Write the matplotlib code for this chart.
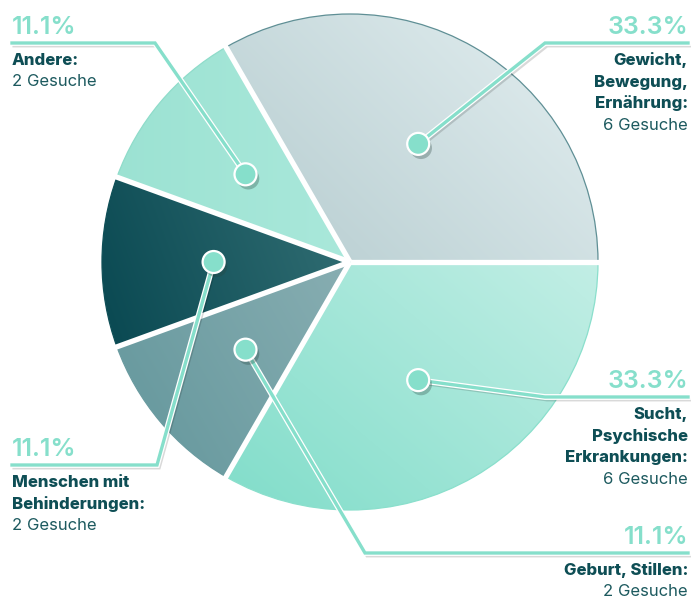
import numpy as np
import matplotlib.pyplot as plt
from matplotlib.patches import Wedge, Circle, Arc
import matplotlib.patheffects as pe

plt.rcParams['font.family'] = ['Inter', 'DejaVu Sans']

# Daten
categories = ['Gewicht,\nBewegung,\nErnährung:', 'Andere:', 'Menschen mit\nBehinderungen:',
              'Geburt, Stillen:', 'Sucht,\nPsychische\nErkrankungen:']
counts = [6, 2, 2, 2, 6]
# Farbverlauf je Segment (Start, Ende, Richtung in Grad)
grad_colors = [('#a3bec2', '#d9e7e9', 45), ('#9be2d2', '#b8eee3', 0),
               ('#0b4a53', '#538d8f', 20), ('#6a9ba0', '#a6c1c4', 30),
               ('#84decb', '#d0f2eb', 50)]
rim_colors = ['#5f8f95', '#8fdcca', '#0f4f57', '#6a9ba0', '#8adfcc']

# Beschriftung: (Knick, Ende, Ausrichtung)
leaders = [((545, 43), (688, 43), 'right'), ((155, 43), (12, 43), 'left'),
           ((157, 465), (12, 465), 'left'), ((365, 553), (688, 553), 'right'),
           ((545, 397), (688, 397), 'right')]

mint = '#86dfcb'
dark = '#0e4e55'
W, H = 691, 598
cx, cy, R = 350, 262, 248

fig = plt.figure(figsize=(W / 100, H / 100), dpi=100)
ax = fig.add_axes([0, 0, 1, 1])
ax.set_xlim(0, W)
ax.set_ylim(H, 0)
ax.axis('off')

total = sum(counts)
angles = np.cumsum([0] + [c / total * 360 for c in counts])

# Gitter für Farbverläufe
xs = np.linspace(cx - R, cx + R, 300)
ys = np.linspace(cy - R, cy + R, 300)
X, Y = np.meshgrid(xs, ys)

for i, c in enumerate(counts):
    a0, a1 = angles[i], angles[i + 1]
    w = Wedge((cx, cy), R, -a1, -a0, facecolor='none', edgecolor='none')
    ax.add_patch(w)
    c0, c1, d = grad_colors[i]
    dx, dy = np.cos(np.radians(d)), -np.sin(np.radians(d))
    t = ((X - cx) * dx + (Y - cy) * dy) / (2 * R) + 0.5
    t = np.clip(t, 0, 1)
    rgb0 = np.array(plt.matplotlib.colors.to_rgb(c0))
    rgb1 = np.array(plt.matplotlib.colors.to_rgb(c1))
    img = rgb0[None, None, :] * (1 - t[..., None]) + rgb1[None, None, :] * t[..., None]
    im = ax.imshow(img, extent=(cx - R, cx + R, cy + R, cy - R), origin='upper',
                   interpolation='bilinear', zorder=1)
    im.set_clip_path(w)
    ax.add_patch(Arc((cx, cy), 2 * R, 2 * R, theta1=-a1, theta2=-a0,
                     color=rim_colors[i], lw=0.9, zorder=2))

# weiße Trennlinien
for a in angles[:-1]:
    ax.plot([cx, cx + (R + 3) * np.cos(np.radians(a))],
            [cy, cy - (R + 3) * np.sin(np.radians(a))],
            color='white', lw=3.8, zorder=3, solid_capstyle='butt')

# Führungslinien, Punkte und Texte
for i, c in enumerate(counts):
    mid = np.radians((angles[i] + angles[i + 1]) / 2)
    px, py = cx + 0.55 * R * np.cos(mid), cy - 0.55 * R * np.sin(mid)
    (kx, ky), (ex, ey), ha = leaders[i]
    ax.plot([px, kx, ex], [py, ky, ey], color=mint, lw=2.4, zorder=4,
            solid_joinstyle='miter',
            path_effects=[pe.SimpleLineShadow(offset=(1.5, -2), alpha=0.15),
                          pe.Stroke(linewidth=4.2, foreground='white'), pe.Normal()])
    ax.add_patch(Circle((px, py), 11, facecolor=mint, edgecolor='white', lw=1.6, zorder=5,
                        path_effects=[pe.SimplePatchShadow(offset=(2, -3), alpha=0.3),
                                      pe.Normal()]))

    pct = c / total * 100
    ax.text(ex, ey - 9, f'{pct:.1f}%', ha=ha, va='baseline', color=mint,
            fontsize=18, fontweight='semibold', zorder=6)
    lines = categories[i].split('\n')
    for j, ln in enumerate(lines):
        ax.text(ex, ey + 22 + j * 21.5, ln, ha=ha, va='baseline', color=dark,
                fontsize=12, fontweight='heavy', zorder=6)
    ax.text(ex, ey + 22 + len(lines) * 21.5, f'{c} Gesuche', ha=ha, va='baseline',
            color='#1d5a5f', fontsize=12, zorder=6)

plt.savefig('out.png', dpi=100)
